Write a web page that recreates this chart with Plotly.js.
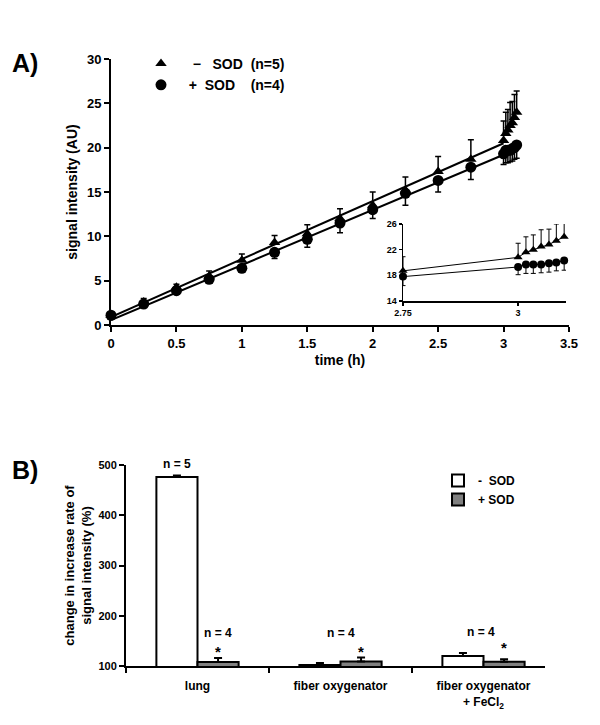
<!DOCTYPE html>
<html><head><meta charset="utf-8">
<script src="https://cdn.plot.ly/plotly-3.0.1.min.js"></script>
<style>html,body{margin:0;padding:0;background:#fff}</style>
</head><body><div id="chart" style="width:600px;height:725px"></div>
<script>
// ---- Panel A data ----
const time = [0,0.25,0.5,0.75,1,1.25,1.5,1.75,2,2.25,2.5,2.75,3.0,3.017,3.033,3.05,3.067,3.083,3.1];
const triMean = [1.1,2.6,4.25,5.5,7.3,9.3,10.3,12.0,13.5,15.2,17.3,18.7,20.8,21.6,22.0,22.5,22.8,23.4,24.0];
const triErr  = [0.3,0.4,0.35,0.6,0.7,0.8,1.0,1.1,1.5,1.5,1.7,2.2,2.2,2.4,2.3,2.6,2.4,2.6,2.4];
const cirMean = [1.1,2.37,3.87,5.15,6.4,8.2,9.66,11.5,13.0,14.85,16.3,17.8,19.3,19.7,19.7,19.7,19.9,20.0,20.3];
const cirErr  = [0.3,0.3,0.3,0.3,0.4,0.7,0.9,1.1,1.0,1.35,1.3,1.4,1.2,1.4,1.4,1.3,1.4,1.3,1.5];
const fitTime = [0,3];
const triFit = [0.9,20.5];
const cirFit = [0.55,19.2];
const insetStart = 2.75;
const xTicksA = [0,0.5,1,1.5,2,2.5,3,3.5];
const yTicksA = [0,5,10,15,20,25,30];
const insetYTicks = [14,18,22,26];
const insetXTicks = [2.75,3];

// ---- Panel B data ----
const categories = ['lung','fiber oxygenator','fiber oxygenator<br>+ FeCl<sub>2</sub>'];
const minusSOD = [476,102,120];
const minusErr = [3,4,6];
const plusSOD  = [108,109,108.6];
const plusErr  = [8,8,5];
const yTicksB = [100,200,300,400,500];

const FONT = 'Liberation Sans, Arial, sans-serif';
const NB = '\u00a0';
const zeros = a => a.map(()=>0);
const idx = time.map((t,i)=>i).filter(i=>time[i]>=insetStart);
const pick = (a)=>idx.map(i=>a[i]);

const traces = [
  {x:fitTime, y:triFit, mode:'lines', line:{color:'#000',width:2}, xaxis:'x', yaxis:'y', showlegend:false, hoverinfo:'skip'},
  {x:fitTime, y:cirFit, mode:'lines', line:{color:'#000',width:2}, xaxis:'x', yaxis:'y', showlegend:false, hoverinfo:'skip'},
  {x:time, y:triMean, mode:'markers', name:NB+NB+NB+'\u2212'+NB+NB+NB+'SOD'+NB+NB+'(n=5)', marker:{symbol:'triangle-up',size:10,color:'#000'},
   error_y:{type:'data',symmetric:false,array:triErr,arrayminus:zeros(triErr),color:'#000',thickness:1.5,width:3},
   xaxis:'x', yaxis:'y', cliponaxis:false, legend:'legend'},
  {x:time, y:cirMean, mode:'markers', name:NB+NB+'+'+NB+NB+'SOD'+NB+NB+NB+NB+'(n=4)', marker:{symbol:'circle',size:11,color:'#000'},
   error_y:{type:'data',symmetric:false,array:zeros(cirErr),arrayminus:cirErr,color:'#000',thickness:1.5,width:3},
   xaxis:'x', yaxis:'y', cliponaxis:false, legend:'legend'},
  // inset
  {x:pick(time), y:pick(triMean), mode:'lines+markers', marker:{symbol:'triangle-up',size:8,color:'#000'}, line:{color:'#000',width:1},
   error_y:{type:'data',symmetric:false,array:pick(triErr),arrayminus:zeros(pick(triErr)),color:'#000',thickness:1,width:2.5},
   xaxis:'x2', yaxis:'y2', showlegend:false, cliponaxis:false},
  {x:pick(time), y:pick(cirMean), mode:'lines+markers', marker:{symbol:'circle',size:8,color:'#000'}, line:{color:'#000',width:1},
   error_y:{type:'data',symmetric:false,array:zeros(pick(cirErr)),arrayminus:pick(cirErr),color:'#000',thickness:1,width:2.5},
   xaxis:'x2', yaxis:'y2', showlegend:false, cliponaxis:false},
  // panel B
  {type:'bar', x:categories, y:minusSOD, name:'-'+NB+NB+'SOD', marker:{color:'#fff',line:{color:'#000',width:2}},
   error_y:{type:'data',symmetric:false,array:minusErr,arrayminus:zeros(minusErr),color:'#000',thickness:2,width:4},
   xaxis:'x3', yaxis:'y3', legend:'legend2'},
  {type:'bar', x:categories, y:plusSOD, name:'+ SOD', marker:{color:'#808080',line:{color:'#000',width:2}},
   error_y:{type:'data',symmetric:false,array:plusErr,arrayminus:zeros(plusErr),color:'#000',thickness:2,width:4},
   xaxis:'x3', yaxis:'y3', legend:'legend2'}
];

const axBase = {showline:true, linecolor:'#000', linewidth:2, ticks:'outside', ticklen:5, tickwidth:2, tickcolor:'#000',
  showgrid:false, zeroline:false, fixedrange:true};

const layout = {
  width:600, height:725, margin:{l:0,r:0,t:0,b:0}, paper_bgcolor:'#fff', plot_bgcolor:'rgba(0,0,0,0)',
  font:{family:FONT, color:'#000', weight:'bold'},
  barmode:'group', bargap:0.425, bargroupgap:0,
  xaxis:Object.assign({}, axBase, {domain:[111/600,569/600], range:[0,3.5], tickvals:xTicksA, anchor:'y',
    tickfont:{size:13, family:FONT, weight:'bold'},
    title:{text:'time (h)', font:{size:14, family:FONT, weight:'bold'}, standoff:6}}),
  yaxis:Object.assign({}, axBase, {domain:[1-325/725,1-59/725], range:[0,30], tickvals:yTicksA, anchor:'x',
    tickfont:{size:13, family:FONT, weight:'bold'},
    title:{text:'signal intensity (AU)', font:{size:14, family:FONT, weight:'bold'}, standoff:6}}),
  xaxis2:Object.assign({}, axBase, {domain:[403/600,566/600], range:[2.75,3.104], tickvals:insetXTicks, ticktext:['2.75','3'], anchor:'y2',
    linewidth:1.5, ticklen:3, tickwidth:1.5, tickfont:{size:9, family:FONT, weight:'bold'}}),
  yaxis2:Object.assign({}, axBase, {domain:[1-301/725,1-224/725], range:[14,26], tickvals:insetYTicks, anchor:'x2',
    linewidth:1.5, ticklen:3, tickwidth:1.5, tickfont:{size:9, family:FONT, weight:'bold'}}),
  xaxis3:Object.assign({}, axBase, {domain:[126/600,545/600], type:'category', range:[-0.5,2.43], anchor:'y3',
    tickson:'boundaries', ticklen:5, tickfont:{size:12, family:FONT, weight:'bold'}, ticklabelstandoff:8}),
  yaxis3:Object.assign({}, axBase, {domain:[1-666/725,1-465/725], range:[100,500], tickvals:yTicksB, anchor:'x3',
    tickfont:{size:11, family:FONT, weight:'bold'},
    title:{text:'change in increase rate of<br>signal intensity (%)', font:{size:13, family:FONT, weight:'bold'}, standoff:4}}),
  legend:{x:141/600, y:1-48/725, xanchor:'left', yanchor:'top', bgcolor:'rgba(0,0,0,0)', borderwidth:0,
    font:{size:14, family:FONT, weight:'bold'}, tracegroupgap:0, itemclick:false},
  legend2:{x:438/600, y:1-466/725, xanchor:'left', yanchor:'top', bgcolor:'rgba(0,0,0,0)', borderwidth:0,
    font:{size:12, family:FONT, weight:'bold'}, traceorder:'normal', itemclick:false},
  annotations:[
    {text:'A)', xref:'paper', yref:'paper', x:10/600, y:1-63/725, xanchor:'left', yanchor:'middle', showarrow:false, font:{size:25, family:FONT, weight:'bold'}},
    {text:'B)', xref:'paper', yref:'paper', x:10/600, y:1-470/725, xanchor:'left', yanchor:'middle', showarrow:false, font:{size:25, family:FONT, weight:'bold'}},
    {text:'n = 5', xref:'x3', yref:'y3', x:-0.144, y:minusSOD[0]+minusErr[0], yshift:12, showarrow:false, font:{size:12, family:FONT, weight:'bold'}},
    {text:'n = 4', xref:'x3', yref:'y3', x:0.144, y:166, showarrow:false, font:{size:12, family:FONT, weight:'bold'}},
    {text:'*', xref:'x3', yref:'y3', x:0.144, y:128, showarrow:false, font:{size:15, family:FONT, weight:'bold'}},
    {text:'n = 4', xref:'x3', yref:'y3', x:1, y:166, showarrow:false, font:{size:12, family:FONT, weight:'bold'}},
    {text:'*', xref:'x3', yref:'y3', x:1.144, y:128, showarrow:false, font:{size:15, family:FONT, weight:'bold'}},
    {text:'n = 4', xref:'x3', yref:'y3', x:1.98, y:168, showarrow:false, font:{size:12, family:FONT, weight:'bold'}},
    {text:'*', xref:'x3', yref:'y3', x:2.144, y:136, showarrow:false, font:{size:15, family:FONT, weight:'bold'}}
  ]
};
Plotly.newPlot('chart', traces, layout, {staticPlot:true, displayModeBar:false});
</script></body></html>
